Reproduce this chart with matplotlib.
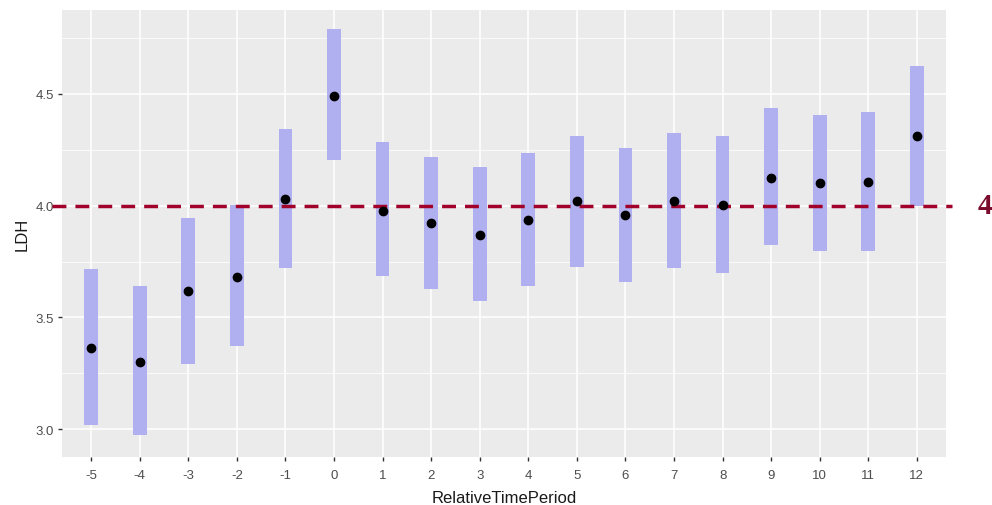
import numpy as np
import matplotlib
matplotlib.use("Agg")
import matplotlib.pyplot as plt
import matplotlib.transforms as mtransforms

# data
periods = [-5, -4, -3, -2, -1, 0, 1, 2, 3, 4, 5, 6, 7, 8, 9, 10, 11, 12]
ldh_mean = [3.364, 3.300, 3.620, 3.682, 4.031, 4.490, 3.978, 3.924, 3.870, 3.937,
            4.022, 3.957, 4.022, 4.004, 4.125, 4.103, 4.107, 4.313]
ci_low = [3.020, 2.975, 3.293, 3.373, 3.722, 4.206, 3.687, 3.628, 3.575, 3.640,
          3.727, 3.660, 3.722, 3.700, 3.826, 3.798, 3.798, 4.000]
ci_high = [3.718, 3.642, 3.946, 4.004, 4.345, 4.792, 4.286, 4.220, 4.175, 4.237,
           4.313, 4.260, 4.327, 4.313, 4.439, 4.407, 4.418, 4.627]
ref_value = 4
y_ticks = [3.0, 3.5, 4.0, 4.5]

plt.rcParams['font.family'] = ['Liberation Sans', 'DejaVu Sans']

fig = plt.figure(figsize=(9.92, 5.06), dpi=100)
ax = fig.add_axes([62 / 992, 48 / 506, 884 / 992, 447 / 506])

x = np.arange(len(periods))
low = np.array(ci_low)
high = np.array(ci_high)

# panel, ggplot look
ax.set_facecolor('#EBEBEB')
for s in ax.spines.values():
    s.set_visible(False)
ax.set_axisbelow(True)
ax.grid(True, which='major', color='white', linewidth=1.1)
ax.set_yticks([3.25, 3.75, 4.25, 4.75], minor=True)
ax.grid(True, which='minor', axis='y', color='white', linewidth=0.55)
ax.tick_params(which='minor', left=False)

# confidence bars and means
ax.bar(x, high - low, bottom=low, width=0.28, color='#B0B0F0', zorder=2)
ax.scatter(x, ldh_mean, s=36, color='black', zorder=4)

# reference line at 4, running past the panel
trans = mtransforms.blended_transform_factory(ax.transAxes, ax.transData)
ax.plot([-0.0113, 1.0068], [ref_value, ref_value], transform=trans, clip_on=False,
        color='#A0002A', linewidth=2.5, dashes=(4, 2.6), zorder=3)
ax.text(1.044, ref_value, str(ref_value), transform=trans, ha='center', va='center',
        fontsize=21, fontweight='bold', color='#7A0C2E', family='Liberation Serif')

ax.set_xlim(-0.6, len(periods) - 0.4)
ax.set_ylim(2.875, 4.876)
ax.set_xticks(x)
ax.set_xticklabels([str(p) for p in periods])
ax.set_yticks(y_ticks)
ax.set_yticklabels(['%.1f' % v for v in y_ticks])
ax.tick_params(which='major', length=3, width=1, color='#333333', labelcolor='#4D4D4D',
               labelsize=9.5, pad=3)
ax.tick_params(axis='x', which='major', pad=6)

ax.set_xlabel('RelativeTimePeriod', fontsize=12, color='#1A1A1A', labelpad=6)
ax.set_ylabel('LDH', fontsize=12, color='#1A1A1A', labelpad=4)

fig.savefig('out.png', dpi=100)
